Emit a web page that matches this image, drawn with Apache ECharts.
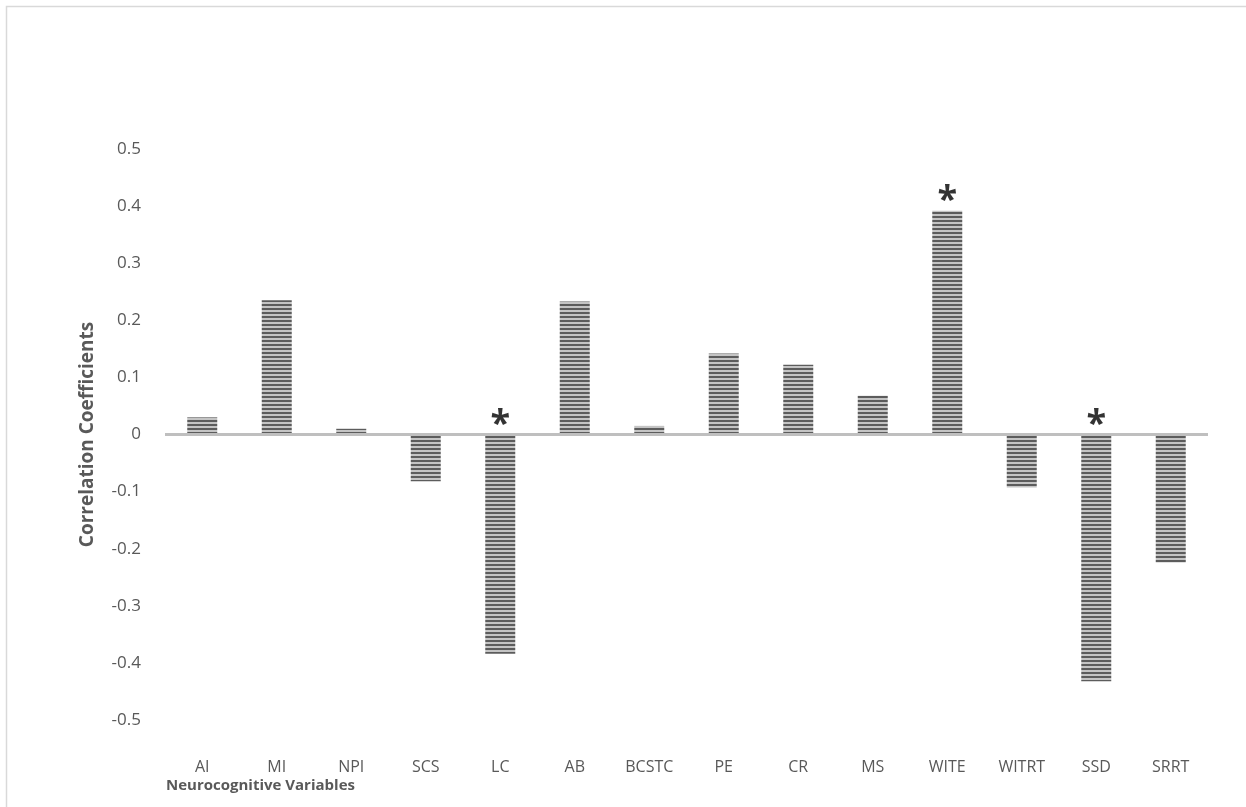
<!DOCTYPE html>
<html>
<head>
<meta charset="utf-8">
<script src="https://cdn.jsdelivr.net/npm/echarts@6/dist/echarts.min.js"></script>
<style>
  html, body { margin: 0; padding: 0; background: #fff; }
  #main { width: 1246px; height: 807px; }
</style>
</head>
<body>
<div id="main"></div>
<script>
// categories and correlation values
var categories = ['AI', 'MI', 'NPI', 'SCS', 'LC', 'AB', 'BCSTC', 'PE', 'CR', 'MS', 'WITE', 'WITRT', 'SSD', 'SRRT'];
var values = [0.03, 0.235, 0.01, -0.082, -0.384, 0.233, 0.015, 0.142, 0.122, 0.068, 0.392, -0.093, -0.432, -0.224];
// significant ones get an asterisk
var significant = ['LC', 'WITE', 'SSD'];
var yTicks = [-0.5, -0.4, -0.3, -0.2, -0.1, 0, 0.1, 0.2, 0.3, 0.4, 0.5];

// horizontal stripe fill
function stripes() {
    var c = document.createElement('canvas');
    c.width = 4;
    c.height = 4;
    var ctx = c.getContext('2d');
    ctx.fillStyle = '#c4c4c4';
    ctx.fillRect(0, 0, 4, 4);
    ctx.fillStyle = '#5c5c5c';
    ctx.fillRect(0, 0, 4, 2);
    return c;
}

var starData = categories
    .map(function (c, i) { return [c, Math.max(values[i], 0)]; })
    .filter(function (d) { return significant.indexOf(d[0]) >= 0; });

var chart = echarts.init(document.getElementById('main'));
var txt = '#595959';
var font = '"Open Sans", sans-serif';

var option = {
    animation: false,
    grid: { left: 165, right: 38, top: 149, bottom: 87 },
    graphic: [
        {
            type: 'rect',
            shape: { x: 6.5, y: 6.5, width: 1400, height: 900 },
            style: { fill: 'none', stroke: '#d9d9d9', lineWidth: 1.5 },
            silent: true
        },
        {
            type: 'text',
            left: 166, top: 778,
            style: { text: 'Neurocognitive Variables', fill: txt, font: 'bold 15px "Open Sans", sans-serif' }
        }
    ],
    xAxis: {
        type: 'category',
        data: categories,
        axisLine: { show: false, onZero: false },
        axisTick: { show: false },
        axisLabel: { color: txt, fontSize: 16, fontFamily: font, margin: 39 },
        splitLine: { show: false }
    },
    yAxis: {
        type: 'value',
        min: -0.5,
        max: 0.5,
        interval: 0.1,
        name: 'Correlation Coefficients',
        nameLocation: 'middle',
        nameGap: 68,
        nameTextStyle: { color: txt, fontSize: 19, fontWeight: 'bold', fontFamily: font },
        axisLine: { show: false },
        axisTick: { show: false },
        splitLine: { show: false },
        axisLabel: {
            color: txt, fontSize: 17, fontFamily: font, margin: 24,
            formatter: function (v) {
                var t = yTicks.find(function (k) { return Math.abs(k - v) < 1e-9; });
                return t === undefined ? '' : String(t);
            }
        }
    },
    series: [
        {
            type: 'bar',
            data: values,
            barWidth: 30,
            itemStyle: { color: { image: stripes(), repeat: 'repeat' } },
            markLine: {
                silent: true,
                symbol: 'none',
                label: { show: false },
                lineStyle: { color: '#bfbfbf', width: 3, type: 'solid' },
                data: [{ yAxis: 0 }]
            },
            z: 2
        },
        {
            type: 'scatter',
            data: starData,
            symbolSize: 1,
            itemStyle: { color: 'transparent' },
            label: {
                show: true,
                position: 'top',
                distance: -9,
                formatter: '*',
                color: '#000',
                fontSize: 36,
                fontWeight: 'bold',
                fontFamily: font
            },
            z: 3
        }
    ]
};

chart.setOption(option);
</script>
</body>
</html>
